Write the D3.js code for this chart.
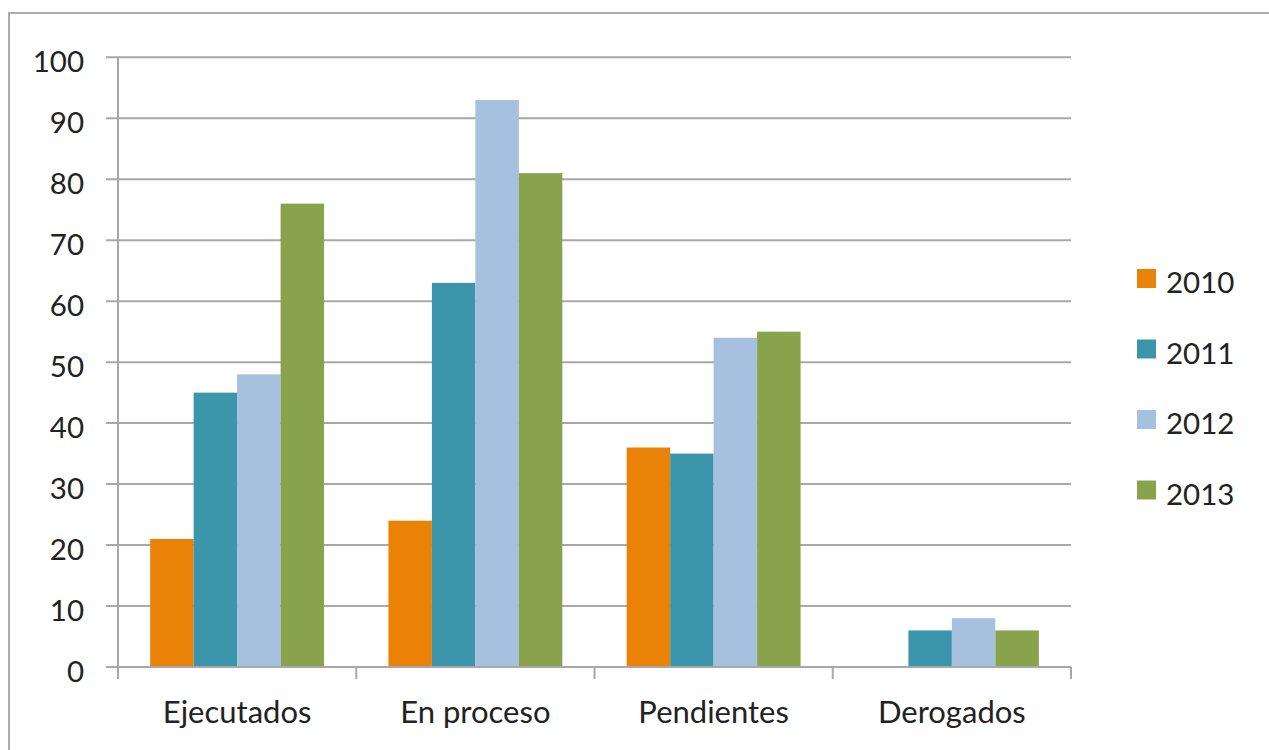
<!DOCTYPE html>
<html>
<head>
<meta charset="utf-8">
<script src="https://cdn.jsdelivr.net/npm/d3@7"></script>
<style>
  html, body { margin: 0; padding: 0; background: #fff; }
  text { font-family: Lato, "Open Sans", sans-serif; fill: #222; }
</style>
</head>
<body>
<div id="chart"></div>
<script>
// Categories and series
const categories = ["Ejecutados", "En proceso", "Pendientes", "Derogados"];
const years = ["2010", "2011", "2012", "2013"];
const values2010 = [21, 24, 36, 0];
const values2011 = [45, 63, 35, 6];
const values2012 = [48, 93, 54, 8];
const values2013 = [76, 81, 55, 6];
const yTicks = [0, 10, 20, 30, 40, 50, 60, 70, 80, 90, 100];

const colors = ["#ea8207", "#3b96ab", "#a6c0df", "#89a34d"];
const seriesValues = [values2010, values2011, values2012, values2013];

const width = 1269, height = 750;
const plot = { left: 118, right: 1071, top: 57.3, bottom: 667 };

const svg = d3.select("#chart").append("svg")
  .attr("width", width)
  .attr("height", height);

// outer frame
svg.append("rect")
  .attr("x", 9).attr("y", 13)
  .attr("width", 1280).attr("height", 760)
  .attr("fill", "none")
  .attr("stroke", "#ababab")
  .attr("stroke-width", 2);

const x = d3.scaleBand()
  .domain(categories)
  .range([plot.left, plot.right]);

const xInner = d3.scaleBand()
  .domain(years)
  .range([0, x.bandwidth()])
  .paddingOuter(0.74);

const y = d3.scaleLinear()
  .domain([0, 100])
  .range([plot.bottom, plot.top]);

// gridlines
svg.append("g")
  .selectAll("line")
  .data(yTicks)
  .join("line")
  .attr("x1", plot.left - 12)
  .attr("x2", plot.right)
  .attr("y1", d => y(d))
  .attr("y2", d => y(d))
  .attr("stroke", "#a8a8a8")
  .attr("stroke-width", 2);

// y tick labels
svg.append("g")
  .selectAll("text")
  .data(yTicks)
  .join("text")
  .attr("x", 84)
  .attr("y", d => y(d) + 15)
  .attr("text-anchor", "end")
  .attr("font-size", 29.5)
  .text(d => d);

// bars
years.forEach((yr, i) => {
  svg.append("g")
    .selectAll("rect")
    .data(categories)
    .join("rect")
    .attr("x", (c) => x(c) + xInner(yr))
    .attr("y", (c, j) => y(seriesValues[i][j]))
    .attr("width", xInner.bandwidth())
    .attr("height", (c, j) => y(0) - y(seriesValues[i][j]))
    .attr("fill", colors[i]);
});

// y axis line
svg.append("line")
  .attr("x1", plot.left).attr("x2", plot.left)
  .attr("y1", plot.top).attr("y2", plot.bottom)
  .attr("stroke", "#a8a8a8")
  .attr("stroke-width", 2);

// x axis line + ticks
svg.append("line")
  .attr("x1", plot.left - 12).attr("x2", plot.right)
  .attr("y1", plot.bottom).attr("y2", plot.bottom)
  .attr("stroke", "#a8a8a8")
  .attr("stroke-width", 2);

const catEdges = categories.map(c => x(c)).concat([plot.right]);
svg.append("g")
  .selectAll("line")
  .data(catEdges)
  .join("line")
  .attr("x1", d => d).attr("x2", d => d)
  .attr("y1", plot.bottom).attr("y2", plot.bottom + 12)
  .attr("stroke", "#a8a8a8")
  .attr("stroke-width", 2);

// category labels
svg.append("g")
  .selectAll("text")
  .data(categories)
  .join("text")
  .attr("x", c => x(c) + x.bandwidth() / 2)
  .attr("y", 723)
  .attr("text-anchor", "middle")
  .attr("font-size", 31)
  .text(c => c);

// legend
const legend = svg.append("g")
  .selectAll("g")
  .data(years)
  .join("g")
  .attr("transform", (d, i) => `translate(1137, ${269 + i * 70.5})`);

legend.append("rect")
  .attr("width", 19)
  .attr("height", 19)
  .attr("fill", (d, i) => colors[i]);

legend.append("text")
  .attr("x", 29)
  .attr("y", 24)
  .attr("font-size", 29.5)
  .text(d => d);
</script>
</body>
</html>
